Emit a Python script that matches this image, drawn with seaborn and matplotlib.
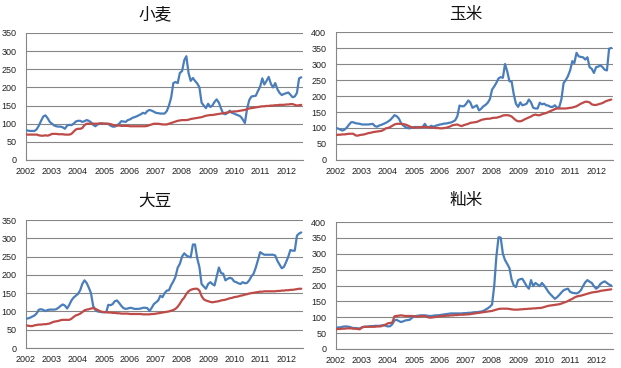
import pandas as pd
import matplotlib
matplotlib.use("Agg")
import matplotlib.pyplot as plt
from matplotlib import font_manager
import seaborn as sns

# ------------------------
# Data (monthly, Jan 2002 - Aug 2012)
# ------------------------
months = pd.date_range("2002-01-01", periods=128, freq="MS")
year_ticks = pd.date_range("2002-01-01", "2012-01-01", freq="YS")
year_labels = [str(d.year) for d in year_ticks]

titles = ["小麦", "玉米", "大豆", "籼米"]

wheat_blue = [82, 81, 80, 80, 80, 85, 95, 108, 120, 123, 115, 105,
              100, 95, 93, 92, 92, 90, 86, 95, 97, 96, 100, 106,
              108, 108, 105, 107, 110, 108, 104, 97, 93, 98, 100, 100,
              100, 100, 99, 95, 92, 92, 95, 100, 107, 106, 105, 110,
              112, 116, 118, 120, 123, 126, 130, 128, 135, 138, 136, 133,
              130, 129, 128, 128, 128, 135, 150, 172, 212, 215, 212, 240,
              245, 275, 286, 240, 218, 226, 218, 211, 200, 158, 150, 143,
              155, 146, 150, 160, 167, 158, 142, 128, 126, 130, 136, 130,
              128, 125, 123, 120, 112, 102, 140, 165, 175, 176, 177, 190,
              202, 225, 208, 218, 229, 210, 200, 212, 195, 185, 179, 182,
              184, 186, 180, 173, 175, 185, 225, 228]
wheat_red = [70, 70, 70, 70, 70, 70, 68, 67, 67, 68, 67, 69,
             72, 72, 72, 71, 71, 71, 70, 70, 70, 72, 78, 84,
             86, 86, 88, 96, 100, 100, 100, 100, 100, 100, 101, 101,
             100, 100, 100, 99, 97, 95, 95, 95, 94, 94, 94, 94,
             93, 93, 93, 93, 93, 93, 93, 93, 94, 96, 98, 100,
             100, 100, 99, 98, 98, 98, 100, 102, 104, 106, 108, 109,
             110, 110, 110, 111, 113, 114, 115, 116, 117, 118, 120, 122,
             123, 124, 124, 125, 126, 127, 128, 129, 130, 131, 132, 133,
             134, 134, 135, 136, 137, 138, 140, 142, 143, 144, 145, 146,
             147, 148, 148, 149, 149, 150, 150, 151, 151, 152, 152, 152,
             153, 153, 154, 154, 152, 150, 151, 152]

corn_blue = [100, 98, 95, 92, 95, 101, 110, 118, 118, 115, 114, 113,
             111, 111, 111, 111, 112, 113, 106, 104, 108, 110, 113, 116,
             120, 125, 132, 140, 137, 130, 116, 108, 103, 100, 99, 101,
             103, 103, 103, 103, 103, 113, 103, 103, 107, 104, 107, 109,
             111, 112, 114, 114, 116, 117, 120, 124, 137, 170, 168, 168,
             175, 186, 180, 163, 167, 171, 155, 160, 168, 172, 179, 190,
             220, 230, 241, 255, 259, 257, 300, 277, 246, 246, 205, 176,
             166, 180, 171, 173, 176, 189, 180, 163, 161, 161, 179, 174,
             176, 171, 170, 166, 166, 171, 163, 165, 190, 240, 250, 262,
             280, 309, 303, 335, 324, 322, 321, 314, 321, 290, 285, 272,
             290, 292, 296, 290, 282, 280, 348, 350]
corn_red = [78, 79, 79, 80, 80, 81, 82, 82, 82, 77, 76, 78,
            79, 80, 82, 84, 85, 87, 88, 89, 90, 91, 94, 99,
            100, 103, 107, 111, 113, 113, 113, 112, 111, 108, 105, 102,
            101, 102, 102, 102, 103, 103, 103, 102, 101, 101, 100, 100,
            99, 99, 100, 101, 103, 106, 109, 110, 111, 108, 106, 109,
            111, 113, 116, 117, 118, 119, 122, 125, 127, 128, 129, 129,
            131, 132, 132, 134, 136, 139, 140, 140, 139, 136, 130, 124,
            121, 121, 123, 127, 130, 133, 136, 140, 142, 140, 140, 143,
            145, 147, 150, 153, 156, 159, 161, 161, 161, 161, 161, 162,
            163, 164, 166, 168, 172, 176, 179, 182, 182, 180, 174, 172,
            172, 174, 176, 178, 182, 185, 187, 189]

soy_blue = [80, 81, 83, 86, 89, 95, 105, 106, 104, 101, 104, 105,
            105, 105, 106, 110, 115, 119, 116, 108, 118, 130, 138, 143,
            148, 158, 175, 185, 178, 165, 150, 115, 104, 100, 99, 98,
            98, 98, 118, 117, 120, 128, 130, 123, 115, 109, 107, 108,
            110, 109, 107, 107, 107, 108, 110, 110, 109, 101, 110, 120,
            125, 130, 143, 139, 150, 157, 158, 172, 182, 195, 220, 230,
            250, 259, 253, 250, 248, 283, 283, 245, 221, 175, 168, 162,
            175, 180, 175, 171, 195, 220, 205, 203, 185, 189, 192, 190,
            182, 180, 177, 175, 180, 177, 178, 185, 196, 203, 220, 240,
            262, 258, 255, 255, 255, 255, 255, 253, 238, 228, 218, 222,
            235, 250, 268, 266, 266, 307, 313, 316]
soy_red = [62, 61, 60, 60, 62, 63, 64, 64, 65, 65, 66, 67,
           70, 72, 73, 74, 76, 77, 77, 77, 77, 80, 85, 89,
           91, 94, 98, 103, 105, 106, 108, 109, 107, 104, 101, 99,
           98, 98, 97, 97, 96, 96, 95, 95, 94, 94, 94, 94,
           93, 93, 93, 93, 93, 93, 92, 92, 92, 92, 93, 93,
           94, 95, 96, 97, 98, 99, 100, 102, 104, 107, 113, 121,
           131, 138, 148, 155, 159, 161, 162, 162, 157, 142, 133, 130,
           128, 126, 125, 126, 127, 128, 130, 131, 132, 134, 136, 137,
           139, 140, 141, 143, 144, 146, 147, 149, 150, 151, 152, 153,
           154, 154, 155, 155, 155, 155, 155, 155, 156, 156, 157, 157,
           158, 158, 159, 159, 160, 161, 162, 162]

rice_blue = [66, 68, 68, 70, 71, 71, 70, 68, 66, 66, 65, 65,
             68, 70, 70, 71, 72, 72, 73, 73, 73, 74, 75, 73,
             71, 72, 78, 90, 92, 88, 85, 87, 90, 91, 92, 98,
             103, 104, 105, 106, 106, 106, 105, 104, 104, 105, 106, 106,
             107, 108, 109, 110, 111, 112, 112, 112, 112, 112, 112, 113,
             113, 114, 114, 115, 116, 116, 117, 118, 120, 124, 128, 133,
             140, 200, 290, 352, 351, 300, 280, 268, 255, 219, 200, 195,
             217, 220, 221, 210, 198, 190, 217, 198, 208, 203, 198, 208,
             200, 190, 180, 172, 165, 158, 163, 170, 178, 185, 188, 190,
             180, 177, 176, 175, 178, 185, 198, 210, 217, 212, 208, 198,
             190, 195, 205, 210, 213, 208, 203, 200]
rice_red = [62, 63, 63, 64, 64, 65, 65, 65, 64, 64, 63, 62,
            68, 70, 70, 70, 70, 70, 70, 71, 71, 72, 75, 77,
            81, 82, 83, 103, 104, 105, 106, 105, 104, 104, 104, 104,
            103, 102, 102, 103, 104, 104, 101, 99, 99, 100, 101, 102,
            103, 104, 104, 105, 105, 106, 106, 107, 107, 108, 108, 108,
            109, 109, 110, 111, 112, 113, 114, 115, 116, 117, 118, 119,
            120, 122, 124, 126, 127, 127, 127, 127, 126, 125, 124, 124,
            124, 125, 125, 126, 126, 127, 127, 128, 128, 129, 129, 130,
            132, 134, 136, 137, 138, 139, 140, 141, 143, 146, 148, 151,
            155, 158, 162, 165, 167, 168, 170, 172, 174, 176, 178, 179,
            180, 181, 183, 184, 185, 186, 187, 188]

blue_series = [wheat_blue, corn_blue, soy_blue, rice_blue]
red_series = [wheat_red, corn_red, soy_red, rice_red]
y_max = [350, 400, 350, 400]

# ------------------------
# Style
# ------------------------
sns.set_style("white")
names = {f.name for f in font_manager.fontManager.ttflist}
tick_font = "Liberation Sans Narrow" if "Liberation Sans Narrow" in names else "Liberation Sans"
plt.rcParams["font.family"] = [tick_font, "DejaVu Sans"]

fig = plt.figure(figsize=(6.21, 3.68), dpi=100)
W, H = 621, 368
# axes boxes in pixels: left, top, right, bottom
boxes = [(26, 33, 303, 160), (336, 32, 613, 160),
         (26, 220, 303, 348), (336, 222, 613, 349)]
title_pos = [(155, 15), (466, 15), (155, 201), (466, 201)]

for i in range(4):
    l, t, r, b = boxes[i]
    ax = fig.add_axes([l / W, 1 - b / H, (r - l) / W, (b - t) / H])
    df = pd.DataFrame({
        "month": list(months) * 2,
        "value": blue_series[i] + red_series[i],
        "series": ["blue"] * len(months) + ["red"] * len(months),
    })
    sns.lineplot(data=df, x="month", y="value", hue="series",
                 palette={"blue": "#4A7EBB", "red": "#BE4B48"},
                 linewidth=1.6, legend=False, ax=ax, zorder=3)
    ax.set_xlim(pd.Timestamp("2002-01-01"), pd.Timestamp("2012-08-25"))
    ax.set_ylim(0, y_max[i])
    ax.set_yticks(range(0, y_max[i] + 1, 50))
    ax.set_xticks(year_ticks)
    ax.set_xticklabels(year_labels)
    ax.grid(axis="y", color="#868686", linewidth=0.8)
    ax.set_axisbelow(True)
    ax.set_xlabel("")
    ax.set_ylabel("")
    for side in ["top", "right"]:
        ax.spines[side].set_visible(False)
    for side in ["left", "bottom"]:
        ax.spines[side].set_color("#868686")
        ax.spines[side].set_linewidth(0.8)
    ax.tick_params(axis="y", length=0, pad=7, labelsize=6.5, labelcolor="#222222")
    ax.tick_params(axis="x", length=3, width=0.8, color="#868686", direction="out",
                   pad=2, labelsize=6.5, labelcolor="#222222")
    ax.patch.set_alpha(0)
    fig.text(title_pos[i][0] / W, 1 - title_pos[i][1] / H, titles[i],
             ha="center", va="center", fontsize=12,
             family=["Noto Sans CJK SC", "DejaVu Sans"], color="#111111")

plt.savefig("out.png", dpi=100)
